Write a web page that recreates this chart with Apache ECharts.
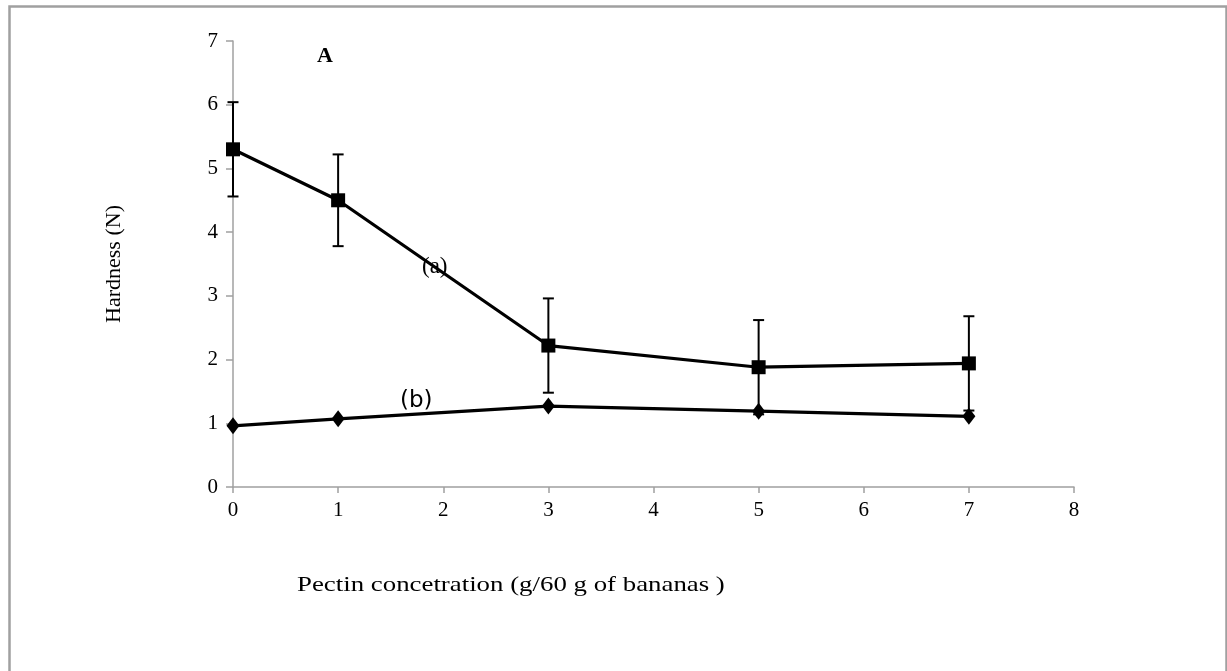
<!DOCTYPE html>
<html>
<head>
<meta charset="utf-8">
<script src="https://cdn.jsdelivr.net/npm/echarts@6/dist/echarts.min.js"></script>
<style>html,body{margin:0;padding:0;background:#fff;}#c{width:1227px;height:671px;}</style>
</head>
<body>
<div id="c"></div>
<script>
const concentrations = [0, 1, 3, 5, 7];
const hardnessA = [5.3, 4.5, 2.22, 1.88, 1.94];
const errorA = [0.74, 0.72, 0.74, 0.74, 0.74];
const hardnessB = [0.96, 1.07, 1.27, 1.19, 1.11];
const xTicks = [0, 1, 2, 3, 4, 5, 6, 7, 8];
const yTicks = [0, 1, 2, 3, 4, 5, 6, 7];

const serif = "'Liberation Serif', 'Times New Roman', serif";
const chart = echarts.init(document.getElementById('c'));

const errData = concentrations.map((x, i) => [x, hardnessA[i] - errorA[i], hardnessA[i] + errorA[i]]);

chart.setOption({
  animation: false,
  backgroundColor: '#fff',
  grid: { left: 233, top: 41, right: 153, bottom: 184, containLabel: false },
  xAxis: {
    type: 'value', min: 0, max: 8, interval: 1,
    axisLine: { show: true, lineStyle: { color: '#a0a0a0', width: 1.5 } },
    axisTick: { show: true, length: 6, lineStyle: { color: '#a0a0a0', width: 1.5 } },
    splitLine: { show: false },
    axisLabel: { color: '#000', fontFamily: serif, fontSize: 21, margin: 13 }
  },
  yAxis: {
    type: 'value', min: 0, max: 7, interval: 1,
    axisLine: { show: true, lineStyle: { color: '#a0a0a0', width: 1.5 } },
    axisTick: { show: true, length: 7, lineStyle: { color: '#a0a0a0', width: 1.5 } },
    splitLine: { show: false },
    axisLabel: { color: '#000', fontFamily: serif, fontSize: 21, margin: 15 },
    name: 'Hardness (N)',
    nameLocation: 'middle',
    nameGap: 108,
    nameRotate: 90,
    nameTextStyle: { color: '#000', fontFamily: serif, fontSize: 22 }
  },
  graphic: [
    { type: 'rect', left: 7, top: 4, shape: { width: 1217, height: 720 }, style: { fill: 'none', stroke: '#a0a0a0', lineWidth: 2.5 }, silent: true },
    { type: 'text', left: 317, top: 45, style: { text: 'A', font: 'bold 22px ' + serif, fill: '#000' } },
    { type: 'text', left: 422, top: 255, style: { text: '(a)', font: '23px ' + serif, fill: '#000' } },
    { type: 'text', left: 400, top: 390, style: { text: '(b)', font: "23px 'DejaVu Sans', sans-serif", fill: '#000' } },
    { type: 'text', x: 297, y: 574, scaleX: 1.22, style: { text: 'Pectin concetration (g/60 g of bananas )', font: '22px ' + serif, fill: '#000' } }
  ],
  series: [
    {
      type: 'line', name: 'a', data: concentrations.map((x, i) => [x, hardnessA[i]]),
      symbol: 'rect', symbolSize: 14,
      lineStyle: { color: '#000', width: 3.2 }, itemStyle: { color: '#000' }, z: 3
    },
    {
      type: 'line', name: 'b', data: concentrations.map((x, i) => [x, hardnessB[i]]),
      symbol: 'diamond', symbolSize: [13, 17],
      lineStyle: { color: '#000', width: 3.2 }, itemStyle: { color: '#000' }, z: 3
    },
    {
      type: 'custom', name: 'errA', data: errData, z: 2,
      renderItem: function (params, api) {
        const x = api.value(0);
        const lo = api.coord([x, api.value(1)]);
        const hi = api.coord([x, api.value(2)]);
        const w = 5.5;
        const st = { stroke: '#000', lineWidth: 2 };
        return {
          type: 'group', children: [
            { type: 'line', shape: { x1: lo[0], y1: lo[1], x2: hi[0], y2: hi[1] }, style: st },
            { type: 'line', shape: { x1: lo[0] - w, y1: lo[1], x2: lo[0] + w, y2: lo[1] }, style: st },
            { type: 'line', shape: { x1: hi[0] - w, y1: hi[1], x2: hi[0] + w, y2: hi[1] }, style: st }
          ]
        };
      }
    }
  ]
});
</script>
</body>
</html>
